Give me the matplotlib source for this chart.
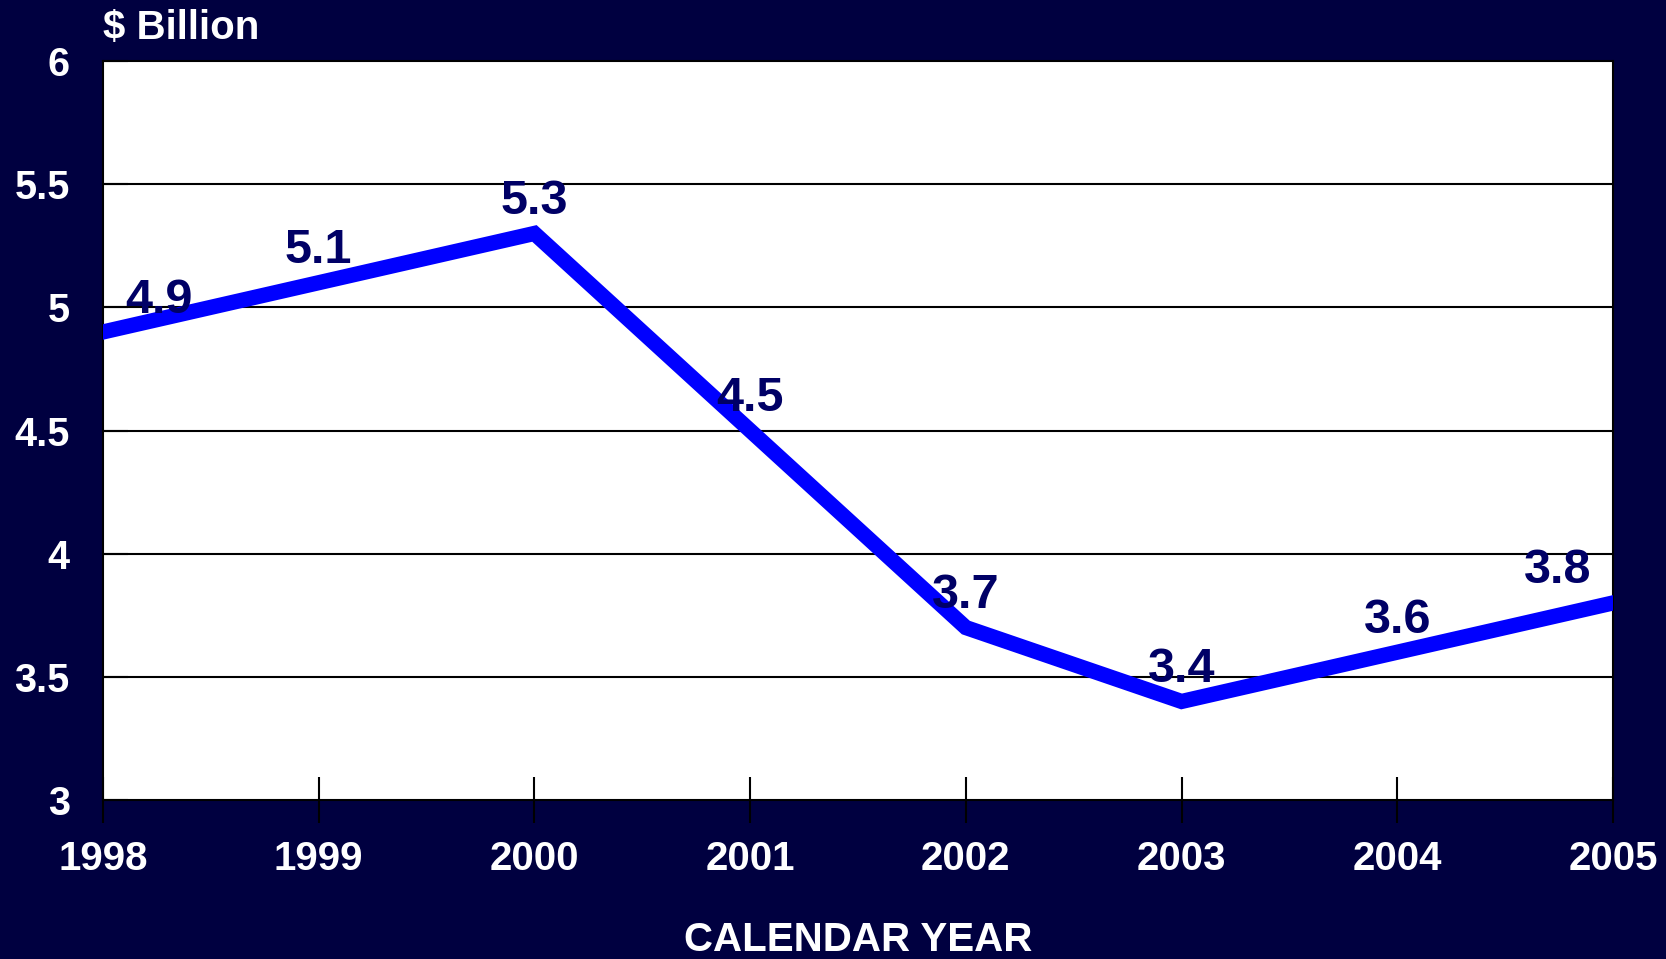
import matplotlib
matplotlib.use("Agg")
import matplotlib.pyplot as plt

years = [1998, 1999, 2000, 2001, 2002, 2003, 2004, 2005]
values = [4.9, 5.1, 5.3, 4.5, 3.7, 3.4, 3.6, 3.8]
labels = ["4.9", "5.1", "5.3", "4.5", "3.7", "3.4", "3.6", "3.8"]
yticks = [3, 3.5, 4, 4.5, 5, 5.5, 6]
ytick_labels = ["3", "3.5", "4", "4.5", "5", "5.5", "6"]

plt.rcParams['font.family'] = ['Liberation Sans', 'DejaVu Sans']
plt.rcParams['font.weight'] = 'bold'

bg = '#000040'
fig = plt.figure(figsize=(16.66, 9.59), dpi=100, facecolor=bg)
ax = fig.add_axes([103/1666, 1-800/959, (1613-103)/1666, (800-61)/959])
ax.set_facecolor('white')

ax.plot(years, values, color='#0000FF', lw=11, solid_joinstyle='miter', zorder=3, clip_on=True)

for i, (x, v, t) in enumerate(zip(years, values, labels)):
    dx = 0
    if i == 0:
        dx = 40
    elif i == len(years) - 1:
        dx = -40
    ax.annotate(t, (x, v), xytext=(dx, 23), textcoords='offset points',
                ha='center', va='center', fontsize=35, fontweight='bold',
                color='#000066', zorder=4, annotation_clip=False)

ax.set_xlim(1998, 2005)
ax.set_ylim(3, 6)
ax.set_yticks(yticks)
ax.set_yticklabels(ytick_labels)
ax.set_xticks(years)
ax.set_xticklabels([str(y) for y in years])

for y in yticks[1:-1]:
    ax.axhline(y, color='black', lw=1.5, zorder=1)

for s in ax.spines.values():
    s.set_color('black')
    s.set_linewidth(1.5)

ax.tick_params(axis='y', direction='in', length=18, width=1.5, color='black',
               pad=24, labelsize=28.5, labelcolor='white')
ax.tick_params(axis='x', direction='inout', length=33, width=1.5, color='black',
               pad=12, labelsize=29, labelcolor='white')
for lab in ax.get_xticklabels() + ax.get_yticklabels():
    lab.set_fontweight('bold')

fig.text(858/1666, 1-940/959, 'CALENDAR YEAR', ha='center', va='center',
         color='white', fontsize=29, fontweight='bold')
fig.text(103/1666, 1-28/959, '$ Billion', ha='left', va='center',
         color='white', fontsize=29, fontweight='bold')

fig.savefig('out.png', dpi=100, facecolor=bg)
